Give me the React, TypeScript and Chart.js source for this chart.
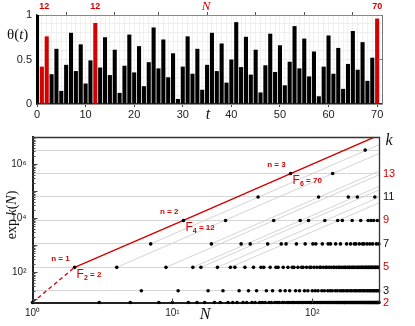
import React, { useEffect, useRef } from "react";
import { Chart, registerables } from "chart.js";

Chart.register(...registerables);

const W = 415;
const TOP_H = 125;
const BOT_H = 201;
const RED = "#d40000";
const SANS = "'Liberation Sans', Arial, sans-serif";
const SERIF = "'Liberation Serif', 'DejaVu Serif', serif";

// ---------- top panel: theta(t), t = 0..70 ----------
const theta = [
  1.0, 0.42, 0.76, 0.335, 0.62, 0.147, 0.44, 0.8, 0.37, 0.67,
  0.23, 0.49, 0.91, 0.41, 0.75, 0.325, 0.61, 0.125, 0.43, 0.78,
  0.355, 0.65, 0.2, 0.47, 0.86, 0.4, 0.725, 0.3, 0.57, 0.057,
  0.42, 0.76, 0.34, 0.62, 0.16, 0.44, 0.8, 0.37, 0.68, 0.24,
  0.5, 0.92, 0.415, 0.755, 0.33, 0.61, 0.13, 0.435, 0.79, 0.36,
  0.66, 0.21, 0.475, 0.875, 0.4, 0.735, 0.31, 0.59, 0.087, 0.42,
  0.77, 0.34, 0.63, 0.17, 0.45, 0.82, 0.385, 0.695, 0.26, 0.52,
  0.96,
];
const highlightT = [1, 2, 12, 70];
const topAxisLabels = [1, 2, 12, 70];
const topAxisTicks = [1, 2, 10, 12, 20, 30, 40, 50, 60, 70];
const thetaTickLabels = [0, 0.5, 1];

// ---------- bottom panel: k(N) for N = 1..300 ----------
const nAtK2 = [
  1, 3, 5, 8, 10, 13, 15, 17, 20, 22, 25, 27,
  29, 32, 34, 37, 39, 42, 44, 46, 49, 51, 54, 56,
  58, 61, 63, 66, 68, 71, 73, 75, 78, 80, 83, 85,
  87, 90, 92, 95, 97, 99, 102, 104, 107, 109, 112, 114,
  116, 119, 121, 124, 126, 128, 131, 133, 136, 138, 141, 143,
  145, 148, 150, 153, 155, 157, 160, 162, 165, 167, 169, 170, 172,
  174, 177, 179, 182, 184, 186, 189, 191, 194, 196, 198, 201,
  203, 206, 208, 211, 213, 215, 218, 220, 223, 225, 227, 230,
  232, 235, 237, 240, 242, 244, 247, 249, 252, 254, 256, 259,
  261, 264, 266, 268, 271, 273, 276, 278, 281, 283, 285, 288,
  290, 293, 295, 297, 300,
];
const nAtK3 = [
  6, 11, 18, 23, 30, 35, 40, 47, 52, 59, 64, 69, 76, 81, 88, 93, 100,
  105, 110, 117, 122, 129, 134, 139, 146, 151, 158, 163, 168, 175, 180,
  187, 192, 199, 204, 209, 216, 221, 228, 233, 238, 245, 250, 257, 262,
  269, 274, 279, 286, 291, 298,
];
const nAtK5 = [
  2, 4, 9, 14, 16, 21, 26, 28, 33, 38, 43, 45, 50, 55, 57,
  62, 67, 72, 74, 79, 84, 86, 91, 96, 98, 103, 108, 113, 115,
  120, 125, 127, 132, 137, 142, 144, 149, 154, 156, 161, 166, 171, 173,
  178, 183, 185, 190, 195, 197, 202, 207, 212, 214, 219, 224, 226, 231,
  236, 241, 243, 248, 253, 255, 260, 265, 267, 272, 277, 282, 284, 289,
  294, 296,
];
const nAtK7 = [
  7, 19, 31, 36, 48, 60, 65, 77, 89, 101, 106, 118, 130, 135, 147, 159,
  176, 188, 200, 205, 217, 229, 234, 246, 258, 270, 287, 299,
];
const nAtK9 = [12, 24, 53, 82, 94, 123, 152, 164, 193, 222, 251, 263, 275, 292];
const nAtK11 = [41, 111, 181, 210, 280];
const nAtK13 = [70, 140];
const nAtK15 = [239];

const kRows: [number, number[]][] = [
  [2, nAtK2], [3, nAtK3], [5, nAtK5], [7, nAtK7],
  [9, nAtK9], [11, nAtK11], [13, nAtK13], [15, nAtK15],
];

const kLevels = [2, 3, 5, 7, 9, 11, 13, 15];
const kLevelLabels = ["2", "3", "5", "7", "9", "11", "13", ""];
const kLevelColors = [RED, "#111", RED, "#111", RED, "#111", RED, "#111"];

// Pell milestones on the red bound
const pellN = [2, 12, 70];
const pellK = [5, 9, 13];
const pellIdx = [1, 2, 3];
const pellSub = [2, 4, 6];
const boundStart = { n: 1, k: 2 };

// grey guide lines (start point N, k), parallel to the red bound
const guideN = [4, 7, 9, 14, 16, 19, 21, 26];
const guideK = [5, 7, 5, 5, 5, 7, 5, 5];

const N_MIN = 1;
const N_MAX = 300;
const Y_MIN = Math.exp(2);
const Y_MAX = 1e7;
const leftMajor = [100, 1e4, 1e6];
const leftLabels: Record<string, string> = { "100": "10²", "10000": "10⁴", "1000000": "10⁶" };
const xLabels: Record<string, string> = { "1": "10⁰", "10": "10¹", "100": "10²" };

function drawParts(ctx: CanvasRenderingContext2D, parts: { t: string; f: string; dy?: number }[], x: number, y: number, align: "left" | "center" | "right") {
  let total = 0;
  for (const p of parts) { ctx.font = p.f; total += ctx.measureText(p.t).width; }
  let cx = align === "left" ? x : align === "center" ? x - total / 2 : x - total;
  ctx.textAlign = "left";
  for (const p of parts) {
    ctx.font = p.f;
    ctx.fillText(p.t, cx, y + (p.dy || 0));
    cx += ctx.measureText(p.t).width;
  }
}

export default function App() {
  const topRef = useRef<HTMLCanvasElement>(null);
  const botRef = useRef<HTMLCanvasElement>(null);

  useEffect(() => {
    const slope = (pellK[2] - pellK[0]) / Math.log(pellN[2] / pellN[0]);

    // ------------ top chart -------------
    const topPlugin = {
      id: "topDecor",
      afterDraw(chart: any) {
        const { ctx, chartArea: a } = chart;
        ctx.save();
        ctx.strokeStyle = "#777";
        ctx.lineWidth = 1;
        ctx.beginPath();
        ctx.moveTo(a.right + 0.5, a.top);
        ctx.lineTo(a.right + 0.5, a.bottom);
        ctx.stroke();
        const y05 = chart.scales.y.getPixelForValue(0.5);
        ctx.beginPath();
        ctx.moveTo(a.right, y05);
        ctx.lineTo(a.right - 4, y05);
        ctx.stroke();
        ctx.fillStyle = "#111";
        ctx.textBaseline = "middle";
        drawParts(ctx, [
          { t: "θ(", f: `15px ${SERIF}` },
          { t: "t", f: `italic 15px ${SERIF}` },
          { t: ")", f: `15px ${SERIF}` },
        ], 7, 35, "left");
        drawParts(ctx, [{ t: "t", f: `italic 16px ${SERIF}` }], 208, 115, "center");
        ctx.fillStyle = RED;
        drawParts(ctx, [{ t: "N", f: `italic 13px ${SERIF}` }], 206, 7, "center");
        ctx.restore();
      },
    };

    const chartA = new Chart(topRef.current as HTMLCanvasElement, {
      type: "bar",
      data: {
        datasets: [
          {
            data: theta.map((v, t) => ({ x: t, y: v })),
            backgroundColor: theta.map((_, t) => (highlightT.includes(t) ? RED : "#000")),
            borderWidth: 0,
            barPercentage: 0.84,
            categoryPercentage: 1,
            clip: { left: 1, right: false, top: false, bottom: 0 } as any,
          },
        ],
      },
      options: {
        responsive: false,
        animation: false,
        plugins: { legend: { display: false }, tooltip: { enabled: false } },
        layout: { padding: { left: 0, right: 33, top: 0, bottom: 0 } },
        scales: {
          x: {
            type: "linear",
            min: 0,
            max: 71,
            offset: false,
            position: "bottom",
            afterBuildTicks: (s: any) => {
              s.ticks = theta.map((_, i) => ({ value: i })).concat([{ value: 71 }]);
            },
            ticks: {
              autoSkip: false,
              maxRotation: 0,
              padding: 1,
              color: "#222",
              font: { family: SANS, size: 11 },
              callback: (v: any) => (Number(v) % 10 === 0 ? String(v) : ""),
            },
            grid: {
              offset: false,
              color: "#f0f0f0",
              tickLength: 3,
              tickColor: (c: any) => (c.tick && c.tick.value % 10 === 0 ? "#444" : "rgba(0,0,0,0)"),
            },
            border: { color: "#333", width: 1.5 },
            afterFit: (s: any) => { s.height = TOP_H - 104; },
          },
          xTop: {
            type: "linear",
            min: 0,
            max: 71,
            offset: false,
            position: "top",
            afterBuildTicks: (s: any) => { s.ticks = topAxisTicks.map((v) => ({ value: v })); },
            ticks: {
              autoSkip: false,
              maxRotation: 0,
              padding: 0,
              color: RED,
              font: { family: SANS, size: 9, weight: "bold" },
              callback: (v: any) => (topAxisLabels.includes(Number(v)) ? String(v) : ""),
            },
            grid: {
              drawOnChartArea: false,
              tickLength: 3,
              tickColor: (c: any) => (c.tick && c.tick.value % 10 === 0 ? "#555" : "rgba(0,0,0,0)"),
            },
            border: { color: "#888", width: 1 },
            afterFit: (s: any) => { s.height = 15; },
          },
          y: {
            type: "linear",
            min: 0,
            max: 1,
            afterBuildTicks: (s: any) => {
              s.ticks = [0, 0.1, 0.2, 0.3, 0.4, 0.5, 0.6, 0.7, 0.8, 0.9, 1].map((v) => ({ value: v }));
            },
            ticks: {
              autoSkip: false,
              padding: 5,
              color: "#222",
              font: { family: SANS, size: 11 },
              callback: (v: any) => {
                const m = thetaTickLabels.find((q) => Math.abs(q - Number(v)) < 1e-6);
                return m === undefined ? "" : String(m);
              },
            },
            grid: { color: "#efefef", drawTicks: false },
            border: { color: "#333", width: 1.5 },
            afterFit: (s: any) => { s.width = 37; },
          },
        },
      },
      plugins: [topPlugin],
    } as any);

    // ------------ bottom chart -------------
    const pointData: { x: number; y: number }[] = [];
    for (const [k, ns] of kRows) for (const n of ns) pointData.push({ x: n, y: Math.exp(k) });

    const boundEndK = pellK[2] + slope * Math.log(N_MAX / pellN[2]);
    const guideSets = guideN.map((n0, i) => ({
      data: [
        { x: n0, y: Math.exp(guideK[i]) },
        { x: N_MAX, y: Math.exp(guideK[i] + slope * Math.log(N_MAX / n0)) },
      ],
      showLine: true,
      borderColor: "#cfcfcf",
      borderWidth: 0.9,
      pointRadius: 0,
      order: 3,
    }));

    const botPlugin = {
      id: "botDecor",
      afterDraw(chart: any) {
        const { ctx, chartArea: a, scales } = chart;
        const xs = scales.x;
        const ys = scales.y;
        ctx.save();
        ctx.strokeStyle = "#333";
        ctx.lineWidth = 1.3;
        ctx.beginPath();
        ctx.moveTo(a.left, a.top + 0.5);
        ctx.lineTo(a.right + 0.5, a.top + 0.5);
        ctx.lineTo(a.right + 0.5, a.bottom);
        ctx.stroke();
        ctx.lineWidth = 1;
        ctx.strokeStyle = "#444";
        for (let d = 0; d <= 7; d++) {
          for (let m = 1; m <= 9; m++) {
            const v = m * Math.pow(10, d);
            if (v < Y_MIN || v > Y_MAX) continue;
            const py = Math.round(ys.getPixelForValue(v)) + 0.5;
            const len = m === 1 ? 5 : 3;
            ctx.beginPath();
            ctx.moveTo(a.left, py);
            ctx.lineTo(a.left + len, py);
            ctx.stroke();
          }
        }
        for (const v of [10, 100]) {
          const px = Math.round(xs.getPixelForValue(v)) + 0.5;
          ctx.beginPath();
          ctx.moveTo(px, a.bottom);
          ctx.lineTo(px, a.bottom - 4);
          ctx.stroke();
        }
        ctx.fillStyle = "#111";
        ctx.textBaseline = "middle";
        drawParts(ctx, [{ t: "N", f: `italic 16px ${SERIF}` }], 205, 190, "center");
        drawParts(ctx, [{ t: "k", f: `italic 16px ${SERIF}` }], 389, 16, "center");
        ctx.save();
        ctx.translate(12, 90);
        ctx.rotate(-Math.PI / 2);
        drawParts(ctx, [
          { t: "exp ", f: `14px ${SERIF}` },
          { t: "k", f: `italic 14px ${SERIF}` },
          { t: "(", f: `14px ${SERIF}` },
          { t: "N", f: `italic 14px ${SERIF}` },
          { t: ")", f: `14px ${SERIF}` },
        ], 0, 0, "center");
        ctx.restore();
        ctx.fillStyle = RED;
        pellN.forEach((n, i) => {
          const px = xs.getPixelForValue(n);
          const py = ys.getPixelForValue(Math.exp(pellK[i]));
          drawParts(ctx, [{ t: `n = ${pellIdx[i]}`, f: `bold 8px ${SANS}` }], px - 5, py - 9, "right");
          drawParts(ctx, [
            { t: "F", f: `12px ${SANS}` },
            { t: String(pellSub[i]), f: `bold 7px ${SANS}`, dy: 4 },
            { t: ` = ${n}`, f: `bold 8px ${SANS}` },
          ], px + 2, py + 7, "left");
        });
        ctx.restore();
      },
    };

    const chartB = new Chart(botRef.current as HTMLCanvasElement, {
      type: "scatter",
      data: {
        datasets: [
          {
            data: pointData,
            pointRadius: 1.8,
            pointBackgroundColor: "#000",
            pointBorderWidth: 0,
            clip: false as any,
            order: 0,
          },
          {
            data: pellN.map((n, i) => ({ x: n, y: Math.exp(pellK[i]) })).concat([{ x: N_MAX, y: Math.exp(boundEndK) }]),
            showLine: true,
            borderColor: RED,
            borderWidth: 1.4,
            pointRadius: 0,
            order: 1,
          },
          {
            data: [
              { x: boundStart.n, y: Math.exp(boundStart.k) },
              { x: pellN[0], y: Math.exp(pellK[0]) },
            ],
            showLine: true,
            borderColor: RED,
            borderWidth: 1.3,
            borderDash: [4, 3],
            pointRadius: 0,
            order: 2,
          },
          ...guideSets,
        ],
      },
      options: {
        responsive: false,
        animation: false,
        plugins: { legend: { display: false }, tooltip: { enabled: false } },
        layout: { padding: { left: 0, right: 0, top: 7, bottom: 0 } },
        scales: {
          x: {
            type: "logarithmic",
            min: N_MIN,
            max: N_MAX,
            position: "bottom",
            afterBuildTicks: (s: any) => { s.ticks = [1, 10, 100].map((v) => ({ value: v })); },
            ticks: {
              autoSkip: false,
              maxRotation: 0,
              padding: 5,
              color: "#222",
              font: { family: SANS, size: 10 },
              callback: (v: any) => xLabels[String(v)] ?? "",
            },
            grid: { drawOnChartArea: false, drawTicks: false },
            border: { color: "#222", width: 2 },
            afterFit: (s: any) => { s.height = BOT_H - 177.5; },
          },
          y: {
            type: "logarithmic",
            min: Y_MIN,
            max: Y_MAX,
            position: "left",
            afterBuildTicks: (s: any) => { s.ticks = leftMajor.map((v) => ({ value: v })); },
            ticks: {
              autoSkip: false,
              padding: 6,
              color: "#222",
              font: { family: SANS, size: 10 },
              callback: (v: any) => leftLabels[String(v)] ?? "",
            },
            grid: { drawOnChartArea: false, drawTicks: false },
            border: { color: "#222", width: 2 },
            afterFit: (s: any) => { s.width = 32.5; },
          },
          k: {
            type: "logarithmic",
            min: Y_MIN,
            max: Y_MAX,
            position: "right",
            afterBuildTicks: (s: any) => { s.ticks = kLevels.map((k) => ({ value: Math.exp(k) })); },
            ticks: {
              autoSkip: false,
              padding: 4,
              color: (c: any) => kLevelColors[c.index] ?? "#111",
              font: { family: SANS, size: 11 },
              callback: (_v: any, i: number) => kLevelLabels[i] ?? "",
            },
            grid: { color: "#d6d6d6", lineWidth: 1, drawTicks: false },
            border: { display: false },
            afterFit: (s: any) => { s.width = W - 379; },
          },
        },
      },
      plugins: [botPlugin],
    } as any);

    return () => {
      chartA.destroy();
      chartB.destroy();
    };
  }, []);

  return (
    <div style={{ position: "absolute", left: 0, top: 0, width: W, height: TOP_H + BOT_H, background: "#fff" }}>
      <canvas ref={topRef} width={W} height={TOP_H} style={{ position: "absolute", left: 0, top: 0, width: W, height: TOP_H }} />
      <canvas ref={botRef} width={W} height={BOT_H} style={{ position: "absolute", left: 0, top: TOP_H, width: W, height: BOT_H }} />
    </div>
  );
}
